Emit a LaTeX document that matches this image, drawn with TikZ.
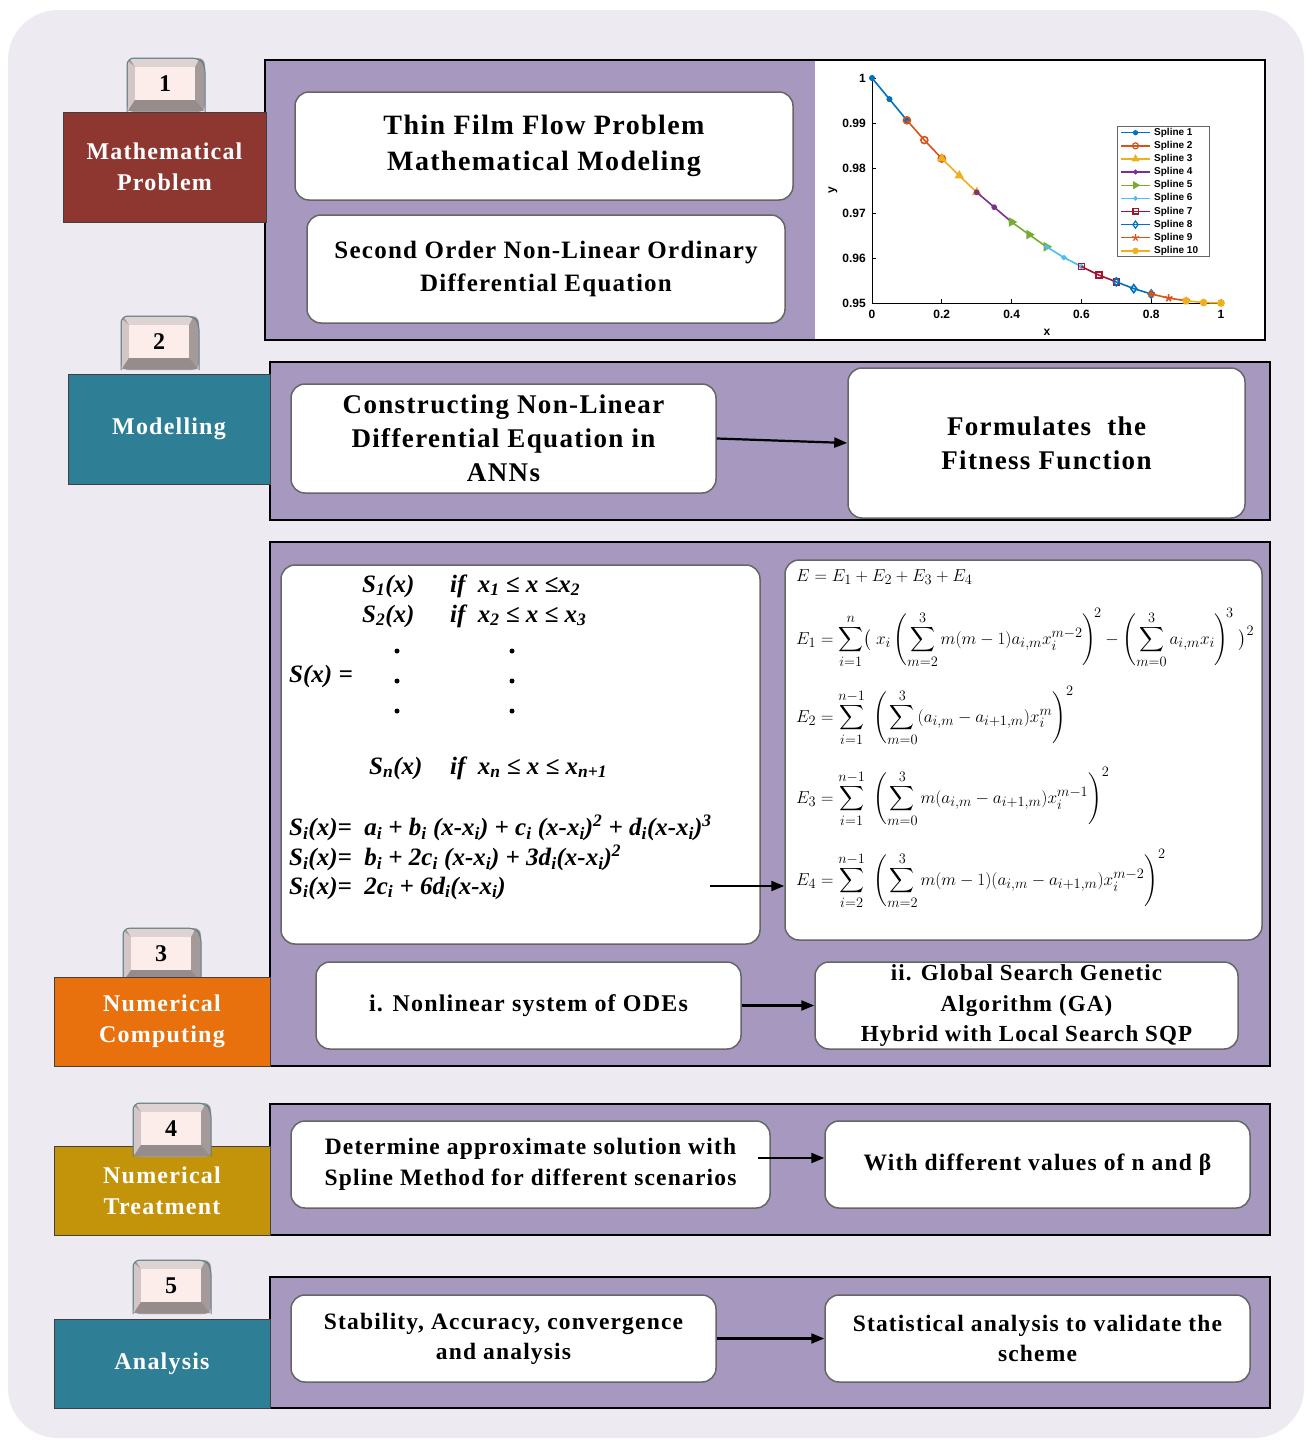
\documentclass[tikz,border=0pt]{standalone}
\usepackage{amsmath}
\usepackage{fontspec}
\newfontfamily\lab{Liberation Serif}[LetterSpace=5]
\newfontfamily\eqf{Liberation Serif}
\newfontfamily\plotf{Liberation Sans}
\usetikzlibrary{arrows.meta,plotmarks}
\newcommand\fsz[2]{\fontsize{#1}{#2}\selectfont}
\definecolor{bgl}{HTML}{EDEAF2}
\definecolor{pur}{HTML}{A798C0}
\definecolor{redt}{HTML}{8E3731}
\definecolor{tealt}{HTML}{2E7F96}
\definecolor{orat}{HTML}{E8710E}
\definecolor{goldt}{HTML}{C3940A}
\definecolor{kface}{HTML}{FCEDEB}
\definecolor{ktop}{HTML}{DDD3D2}
\definecolor{kleft}{HTML}{D2C7C6}
\definecolor{kright}{HTML}{A39A99}
\definecolor{kbot}{HTML}{958C8B}
\definecolor{kline}{HTML}{5E8088}
\definecolor{m1}{HTML}{0072BD}
\definecolor{m2}{HTML}{D95319}
\definecolor{m3}{HTML}{EDB120}
\definecolor{m4}{HTML}{7E2F8E}
\definecolor{m5}{HTML}{77AC30}
\definecolor{m6}{HTML}{4DBEEE}
\definecolor{m7}{HTML}{A2142F}
\tikzset{
 panel/.style={fill=pur, draw=black, line width=2.5},
 tabbox/.style={draw=black!75, line width=1, text=white, align=center,
   font=\lab\bfseries\fsz{24}{31}, inner sep=0},
 wbox/.style={draw=black!60, line width=1.5, fill=white, rounded corners=14,
   align=center, inner sep=0, text=black, font=\lab\bfseries\fsz{24}{31}},
 arr/.style={line width=2.2, -{Triangle[length=13,width=10]}},
 leq/.style={anchor=west, inner sep=0, font=\eqf\bfseries\itshape\fsz{25}{29}},
 req/.style={anchor=west, inner sep=0, font=\fsz{19}{23}},
 tick/.style={font=\plotf\bfseries\fsz{12}{14}, inner sep=0},
 leg/.style={font=\plotf\bfseries\fsz{10}{11}, anchor=west, inner sep=0},
 spl/.style={line width=1.6},
}
% number key: name, x0, y0, label
\newcommand\numkey[4]{%
 \begin{scope}[shift={(#2,#3)}]
  \fill[kright, rounded corners=7] (0,0) rectangle (78,54);
  \fill[ktop] (3,1) -- (72,1) -- (68,9) -- (8,9) -- cycle;
  \fill[kleft] (1,3) -- (8,9) -- (8,42) -- (1,52) -- cycle;
  \fill[kright] (77,6) -- (68,9) -- (68,42) -- (77,52) -- cycle;
  \fill[kbot] (1,53) -- (8,42) -- (68,42) -- (77,53) -- cycle;
  \fill[kface] (8,9) rectangle (68,42);
  \draw[kline, line width=1, rounded corners=7] (0,54) -- (0,0) -- (72,0) -- (78,7) -- (78,54);
  \node[font=\lab\bfseries\fsz{24}{28}, inner sep=0] (#1) at (38,26) {#4};
 \end{scope}}
\begin{document}
\begin{tikzpicture}[x=1pt,y=-1pt]
\useasboundingbox (0,0) rectangle (1306,1440);
\fill[white] (0,0) rectangle (1306,1440);
\fill[bgl, rounded corners=50] (8,10) rectangle (1304,1438);

% ---------------- Row 1
\draw[panel] (265,60) rectangle (1265,340);
\fill[white] (815,61.3) rectangle (1263.7,338.7);
\numkey{k1}{127}{58}{1}
\node[tabbox, fill=redt, minimum width=203, minimum height=110] (t1) at (164.5,167) {Mathematical\\Problem};
\node[wbox, minimum width=498, minimum height=108, font=\lab\bfseries\fsz{28}{36}] (A) at (544,146) {Thin Film Flow Problem\\Mathematical Modeling};
\node[wbox, minimum width=478, minimum height=108, font=\lab\bfseries\fsz{25}{33}] (B) at (546,269) {Second Order Non-Linear Ordinary\\Differential Equation};

% plot
\draw[line width=1] (872,78) -- (872,303) -- (1221,303);
\foreach \t [count=\i] in {0,0.2,0.4,0.6,0.8,1}{
  \draw[line width=0.8] ({872+349*\t},303) -- ++(0,-4);
  \node[tick, anchor=north] (xt\i) at ({872+349*\t},310) {\t};}
\foreach \v/\lb [count=\i] in {0/1,1/0.99,2/0.98,3/0.97,4/0.96,5/0.95}{
  \draw[line width=0.8] (872,{78+45*\v}) -- ++(4,0);
  \node[tick, anchor=east] (yt\i) at (866,{78+45*\v}) {\lb};}
\node[tick, rotate=90] (ylab) at (833,190) {y};
\node[tick] (xlab) at (1047,332) {x};
\draw[spl, m1, mark=*, mark size=2.2] plot coordinates {(872,78) (889.45,99.15) (906.9,120.3)};
\draw[spl, m2, mark=o, mark size=3.5] plot coordinates {(906.9,120.3) (924.35,140.1) (941.8,158.55)};
\draw[spl, m3, mark=triangle*, mark size=4] plot coordinates {(941.8,158.55) (959.25,175.65) (976.7,192.3)};
\draw[spl, m4, mark=*, mark size=2] plot coordinates {(976.7,192.3) (994.15,207.15) (1011.6,222)};
\draw[spl, m5, mark=triangle*, mark size=4, mark options={rotate=-90}] plot coordinates {(1011.6,222) (1029.05,234.6) (1046.5,246.75)};
\draw[spl, m6, mark=*, mark size=1.8] plot coordinates {(1046.5,246.75) (1063.95,257.55) (1081.4,266.55)};
\draw[spl, m7, mark=square, mark size=3] plot coordinates {(1081.4,266.55) (1098.85,275.1) (1116.3,281.85)};
\draw[spl, m1, mark=diamond, mark size=4] plot coordinates {(1116.3,281.85) (1133.75,288.6) (1151.2,294)};
\draw[spl, m2, mark=star, mark size=4] plot coordinates {(1151.2,294) (1168.65,298.05) (1186.1,300.75)};
\draw[spl, m3, mark=*, mark size=3] plot coordinates {(1186.1,300.75) (1203.55,302.55) (1221,303)};
\draw[black!60, fill=white, line width=0.8] (1117,126) rectangle (1209,256);
\foreach \k/\c/\mk/\ms/\rt in {1/m1/*/2/0, 2/m2/o/3/0, 3/m3/triangle*/3.5/0, 4/m4/*/1.8/0, 5/m5/triangle*/3.5/-90,
   6/m6/*/1.6/0, 7/m7/square/2.6/0, 8/m1/diamond/3.5/0, 9/m2/star/3.5/0, 10/m3/*/2.6/0}{
  \draw[\c, line width=1.4] (1121,{132.7+13.13*(\k-1)}) -- (1150,{132.7+13.13*(\k-1)});
  \draw[\c, line width=1.2, mark=\mk, mark size=\ms, mark options={rotate=\rt}] plot coordinates {(1135.5,{132.7+13.13*(\k-1)})};
  \node[leg] (lg\k) at (1154,{132.7+13.13*(\k-1)}) {Spline \k};}

% ---------------- Row 2
\draw[panel] (270,362) rectangle (1270,520);
\numkey{k2}{121}{316}{2}
\node[tabbox, fill=tealt, minimum width=202, minimum height=110] (t2) at (169,429) {Modelling};
\node[wbox, minimum width=425, minimum height=109, font=\lab\bfseries\fsz{27}{34}] (C) at (503.5,438.5) {Constructing Non-Linear\\Differential Equation in\\ANNs};
\node[wbox, minimum width=397, minimum height=150, font=\lab\bfseries\fsz{27}{34}] (D) at (1046.5,443) {Formulates\ \ the\\Fitness Function};
\draw[arr] (C.east) -- (D.west);

% ---------------- Row 3
\draw[panel] (270,542) rectangle (1270,1066);
\numkey{k3}{123}{928}{3}
\node[tabbox, fill=orat, minimum width=216, minimum height=89] (t3) at (162,1021.5) {Numerical\\Computing};
\node[wbox, minimum width=479, minimum height=379] (EL) at (520.5,754.5) {};
\node[wbox, minimum width=477, minimum height=380] (ER) at (1023.5,750) {};
% left equations
\node[leq] (s1) at (362,586) {S\textsubscript{1}(x)};
\node[leq] (if1) at (450,586) {if\ \ x\textsubscript{1} ≤ x ≤x\textsubscript{2}};
\node[leq] (s2) at (362,616) {S\textsubscript{2}(x)};
\node[leq] (if2) at (450,616) {if\ \ x\textsubscript{2} ≤ x ≤ x\textsubscript{3}};
\node[leq] (sx) at (289,676) {S(x) =};
\foreach \yy in {651,681,711}{
  \fill (397,\yy) circle[radius=2.5pt];
  \fill (512,\yy) circle[radius=2.5pt];}
\node[leq] (sn) at (369,768) {S\textsubscript{n}(x)};
\node[leq] (ifn) at (450,768) {if\ \ x\textsubscript{n} ≤ x ≤ x\textsubscript{n+1}};
\node[leq] (l1) at (289,828) {S\textsubscript{i}(x)=\ \ a\textsubscript{i} + b\textsubscript{i} (x-x\textsubscript{i}) + c\textsubscript{i} (x-x\textsubscript{i})\textsuperscript{2} + d\textsubscript{i}(x-x\textsubscript{i})\textsuperscript{3}};
\node[leq] (l2) at (289,858) {S\textsubscript{i}(x)=\ \ b\textsubscript{i} + 2c\textsubscript{i} (x-x\textsubscript{i}) + 3d\textsubscript{i}(x-x\textsubscript{i})\textsuperscript{2}};
\node[leq] (l3) at (289,888) {S\textsubscript{i}(x)=\ \ 2c\textsubscript{i} + 6d\textsubscript{i}(x-x\textsubscript{i})};
% right equations
\node[req] (e0) at (796,577) {$E=E_1+E_2+E_3+E_4$};
\node[req] (e1) at (796,638) {$\displaystyle E_1=\sum_{i=1}^{n}\bigl(\;x_i\left(\sum_{m=2}^{3}m(m-1)a_{i,m}x_i^{m-2}\right)^{\!2}-\left(\sum_{m=0}^{3}a_{i,m}x_i\right)^{\!3}\;\bigr)^{2}$};
\node[req] (e2) at (796,716) {$\displaystyle E_2=\sum_{i=1}^{n-1}\ \left(\sum_{m=0}^{3}(a_{i,m}-a_{i+1,m})x_i^{m}\right)^{2}$};
\node[req] (e3) at (796,797) {$\displaystyle E_3=\sum_{i=1}^{n-1}\ \left(\sum_{m=0}^{3}m(a_{i,m}-a_{i+1,m})x_i^{m-1}\right)^{2}$};
\node[req] (e4) at (796,879) {$\displaystyle E_4=\sum_{i=2}^{n-1}\ \left(\sum_{m=2}^{3}m(m-1)(a_{i,m}-a_{i+1,m})x_i^{m-2}\right)^{2}$};
\coordinate (a3) at (710,886);
\draw[arr] (a3) -- (a3 -| ER.west);
\node[wbox, minimum width=425, minimum height=87] (I) at (528.5,1005.5) {i. Nonlinear system of ODEs};
\node[wbox, minimum width=423, minimum height=87, font=\lab\bfseries\fsz{23}{30.5}] (II) at (1026.5,1005.5) {ii. Global Search Genetic\\Algorithm (GA)\\Hybrid with Local Search SQP};
\draw[arr] (I.east) -- (II.west);

% ---------------- Row 4
\draw[panel] (270,1104) rectangle (1270,1235);
\node[tabbox, fill=goldt, minimum width=216, minimum height=89] (t4) at (162,1190.5) {Numerical\\Treatment};
\numkey{k4}{133}{1103}{4}
\node[wbox, minimum width=479, minimum height=87, font=\lab\bfseries\fsz{23.5}{31}] (F) at (530.5,1164.5) {Determine approximate solution with\\Spline Method for different scenarios};
\node[wbox, minimum width=425, minimum height=87, font=\lab\bfseries\fsz{23.5}{31}] (G) at (1037.5,1164.5) {With different values of n and β};
\coordinate (a4) at (758,1158);
\draw[arr] (a4) -- (a4 -| G.west);

% ---------------- Row 5
\draw[panel] (270,1277) rectangle (1270,1408);
\numkey{k5}{133}{1260}{5}
\node[tabbox, fill=tealt, minimum width=216, minimum height=89] (t5) at (162,1363.5) {Analysis};
\node[wbox, minimum width=425, minimum height=87, font=\lab\bfseries\fsz{23.5}{30}] (H) at (503.5,1338.5) {Stability, Accuracy, convergence\\and analysis};
\node[wbox, minimum width=425, minimum height=87, font=\lab\bfseries\fsz{23.5}{30}] (K) at (1037.5,1338.5) {Statistical analysis to validate the\\scheme};
\draw[arr] (H.east) -- (K.west);
\end{tikzpicture}
\end{document}
